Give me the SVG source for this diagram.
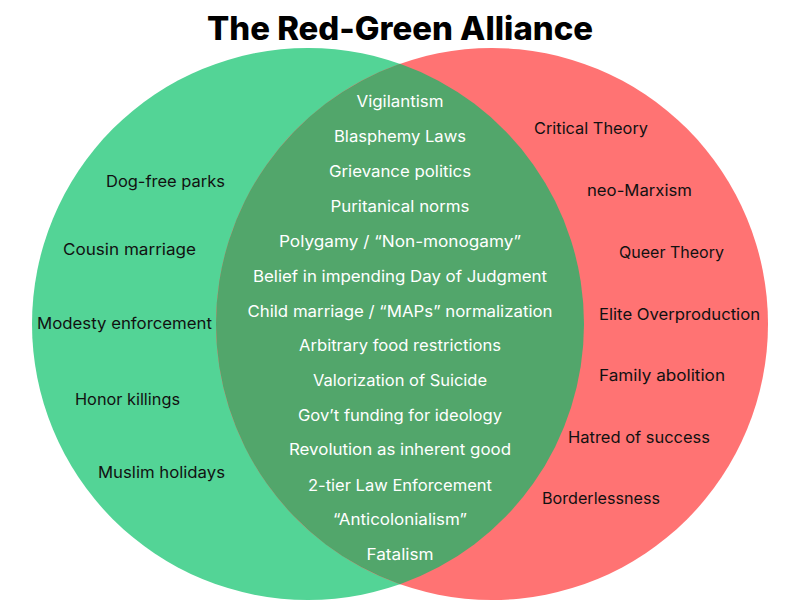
<svg xmlns="http://www.w3.org/2000/svg" width="800" height="600" viewBox="0 0 800 600">
<style>
.t{font-family:Inter,"Open Sans","Liberation Sans",sans-serif;font-size:16px;}
.c{fill:#ffffff;text-anchor:middle;}
.s{fill:#111111;}
.title{font-family:Inter,"Liberation Sans",sans-serif;font-size:32px;font-weight:800;fill:#000;text-anchor:middle;}
</style>
<rect width="800" height="600" fill="#ffffff"/>
<text class="title" x="400" y="40" textLength="386" lengthAdjust="spacingAndGlyphs">The Red-Green Alliance</text>
<g id="green-circle"><circle cx="308" cy="324" r="276" fill="#53D496"/></g>
<g id="red-circle"><circle cx="492" cy="324" r="276" fill="#FF7373"/></g>
<g id="overlap"><path d="M400,63.78 A276,276 0 0,1 400,584.22 A276,276 0 0,1 400,63.78 Z" fill="#52A66B"/></g>
<g id="left-labels">
<text class="t s" x="106" y="187" textLength="119" lengthAdjust="spacingAndGlyphs">Dog-free parks</text>
<text class="t s" x="63" y="255" textLength="133" lengthAdjust="spacingAndGlyphs">Cousin marriage</text>
<text class="t s" x="37" y="329" textLength="175" lengthAdjust="spacingAndGlyphs">Modesty enforcement</text>
<text class="t s" x="75" y="405" textLength="105" lengthAdjust="spacingAndGlyphs">Honor killings</text>
<text class="t s" x="98" y="478" textLength="127" lengthAdjust="spacingAndGlyphs">Muslim holidays</text>
</g>
<g id="right-labels">
<text class="t s" x="534" y="134" textLength="114" lengthAdjust="spacingAndGlyphs">Critical Theory</text>
<text class="t s" x="587" y="196" textLength="105" lengthAdjust="spacingAndGlyphs">neo-Marxism</text>
<text class="t s" x="619" y="258" textLength="105" lengthAdjust="spacingAndGlyphs">Queer Theory</text>
<text class="t s" x="599" y="320" textLength="161" lengthAdjust="spacingAndGlyphs">Elite Overproduction</text>
<text class="t s" x="599" y="381" textLength="126" lengthAdjust="spacingAndGlyphs">Family abolition</text>
<text class="t s" x="568" y="443" textLength="142" lengthAdjust="spacingAndGlyphs">Hatred of success</text>
<text class="t s" x="542" y="504" textLength="118" lengthAdjust="spacingAndGlyphs">Borderlessness</text>
</g>
<g id="shared-labels">
<text class="t c" x="400" y="107" textLength="87" lengthAdjust="spacingAndGlyphs">Vigilantism</text>
<text class="t c" x="400" y="142" textLength="132" lengthAdjust="spacingAndGlyphs">Blasphemy Laws</text>
<text class="t c" x="400" y="177" textLength="142" lengthAdjust="spacingAndGlyphs">Grievance politics</text>
<text class="t c" x="400" y="212" textLength="139" lengthAdjust="spacingAndGlyphs">Puritanical norms</text>
<text class="t c" x="400" y="247" textLength="242" lengthAdjust="spacingAndGlyphs">Polygamy / “Non-monogamy”</text>
<text class="t c" x="400" y="282" textLength="294" lengthAdjust="spacingAndGlyphs">Belief in impending Day of Judgment</text>
<text class="t c" x="400" y="317" textLength="305" lengthAdjust="spacingAndGlyphs">Child marriage / “MAPs” normalization</text>
<text class="t c" x="400" y="351" textLength="202" lengthAdjust="spacingAndGlyphs">Arbitrary food restrictions</text>
<text class="t c" x="400" y="386" textLength="174" lengthAdjust="spacingAndGlyphs">Valorization of Suicide</text>
<text class="t c" x="400" y="421" textLength="204" lengthAdjust="spacingAndGlyphs">Gov’t funding for ideology</text>
<text class="t c" x="400" y="455" textLength="222" lengthAdjust="spacingAndGlyphs">Revolution as inherent good</text>
<text class="t c" x="400" y="491" textLength="184" lengthAdjust="spacingAndGlyphs">2-tier Law Enforcement</text>
<text class="t c" x="400" y="525" textLength="134" lengthAdjust="spacingAndGlyphs">“Anticolonialism”</text>
<text class="t c" x="400" y="560" textLength="67" lengthAdjust="spacingAndGlyphs">Fatalism</text>
</g>
</svg>
